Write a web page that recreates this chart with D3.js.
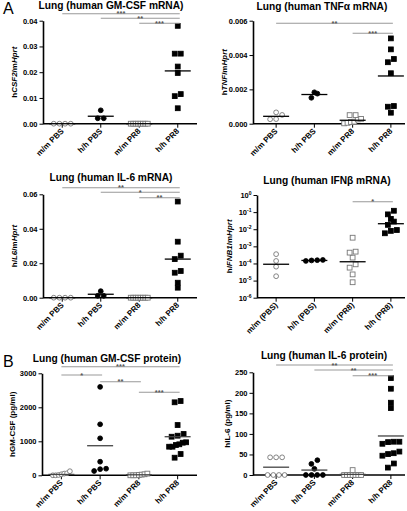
<!DOCTYPE html>
<html><head><meta charset="utf-8">
<script src="https://cdn.jsdelivr.net/npm/d3@7"></script>
<style>body{margin:0;background:#fff}svg{font-family:"Liberation Sans",Arial,sans-serif;}</style>
</head><body><svg id="c" width="407" height="511"></svg>
<script>
// ---------- DATA ----------
const groups = ["m/m PBS", "h/h PBS", "m/m PR8", "h/h PR8"];
const groupsIFN = ["m/m (PBS)", "h/h (PBS)", "m/m (PR8)", "h/h (PR8)"];

const gmcsfMrna = [
  [0, 0, 0, 0],
  [0.0052, 0.0021, 0.0021],
  [0, 0, 0, 0, 0, 0, 0, 0],
  [0.038, 0.0272, 0.0272, 0.0222, 0.0197, 0.0115, 0.0107, 0.006]
];
const gmcsfMrnaMean = [0, 0.0029, 0, 0.0205];

const tnfMrna = [
  [0.00066, 0.00051, 0.00027, 0.00026],
  [0.00183, 0.00175, 0.00151],
  [0.0005, 0.0005, 0.00028, 0.00025, 0.00012, 0.0001, 0.00005, 0.00002],
  [0.00497, 0.00433, 0.00377, 0.00358, 0.00294, 0.00103, 0.00099, 0.00064]
];
const tnfMrnaMean = [0.00043, 0.0017, 0.0002, 0.00278];

const il6Mrna = [
  [0, 0, 0, 0],
  [0.0038, 0.0011, 0.0011],
  [0, 0, 0, 0, 0, 0, 0, 0],
  [0.0558, 0.0325, 0.0244, 0.0224, 0.0155, 0.0145, 0.0087, 0.0058]
];
const il6MrnaMean = [0, 0.002, 0, 0.0224];

const ifnMrna = [
  [3.5e-4, 1.4e-4, 6.5e-5, 1.8e-5],
  [1.6e-4, 1.5e-4, 1.4e-4, 1.55e-4],
  [3.2e-3, 4.9e-4, 4.3e-4, 2.2e-4, 8.9e-5, 5.7e-5, 2.3e-5, 8e-6],
  [0.12, 0.074, 0.04, 0.028, 0.018, 0.009, 0.0058, 0.008]
];
const ifnMrnaMean = [9e-5, 1.5e-4, 1.26e-4, 0.021];

const gmcsfProt = [
  [120, 60, 30, 10, 0, 0, 50],
  [2600, 1500, 1088, 400, 194, 126, 180],
  [50, 30, 20, 10, 0, 0, 0],
  [2147, 2185, 1479, 1215, 1135, 1165, 912, 971, 959, 841, 841, 891, 518, 626]
];
const gmcsfProtMean = [25, 870, 15, 1135];

const il6Prot = [
  [43, 43, 43, 0, 0, 0, 0],
  [36, 27, 15, 0, 0, 0, 0],
  [12, 0, 0, 0, 0, 0, 0, 0],
  [236, 210, 176, 163, 81, 76, 80, 81, 57, 51, 47, 53, 28, 18]
];
const il6ProtMean = [19, 12, 1.5, 95];

// significance: [fromGroup, toGroup, label]
const sigGmcsfMrna = [[0, 3, "***"], [1, 3, "**"], [2, 3, "***"]];
const sigTnfMrna = [[0, 3, "**"], [2, 3, "***"]];
const sigIl6Mrna = [[0, 3, "**"], [1, 3, "*"], [2, 3, "**"]];
const sigIfnMrna = [[2, 3, "*"]];
const sigGmcsfProt = [[0, 3, "***"], [0, 1, "*"], [1, 2, "**"], [2, 3, "***"]];
const sigIl6Prot = [[0, 3, "**"], [1, 3, "**"], [2, 3, "***"]];

const ticksGmcsfMrna = [0, 0.01, 0.02, 0.03, 0.04];
const ticksTnfMrna = [0, 0.002, 0.004, 0.006];
const ticksIl6Mrna = [0, 0.02, 0.04, 0.06];
const ticksIfnMrna = [1e-6, 1e-5, 1e-4, 1e-3, 1e-2, 1e-1, 1];
const ticksGmcsfProt = [0, 1000, 2000, 3000];
const ticksIl6Prot = [0, 50, 100, 150, 200, 250];

const markers = ["circleOpen", "circleFilled", "squareOpen", "squareFilled"];

// ---------- DRAW ----------
const svg = d3.select("#c");

function swarm(vals, y, cx) {
  const pts = vals.map(v => ({ v, py: y(v) })).sort((a, b) => b.py - a.py);
  const rows = [];
  pts.forEach(p => {
    const r = rows[rows.length - 1];
    if (r && r.start - p.py < 4.5) r.pts.push(p); else rows.push({ start: p.py, pts: [p] });
  });
  const out = [];
  rows.forEach(r => {
    const n = r.pts.length;
    const s = n > 1 ? Math.min(6, 17 / (n - 1)) : 0;
    r.pts.forEach((p, i) => out.push({ px: cx + (i - (n - 1) / 2) * s, py: p.py }));
  });
  return out;
}

function drawMarker(g, type, px, py) {
  if (type.startsWith("circle")) {
    g.append("circle").attr("cx", px).attr("cy", py).attr("r", 2.4)
      .attr("fill", type === "circleFilled" ? "#000" : "#fff")
      .attr("stroke", type === "circleFilled" ? "#000" : "#777").attr("stroke-width", 0.9);
  } else {
    g.append("rect").attr("x", px - 2.4).attr("y", py - 2.4).attr("width", 4.8).attr("height", 4.8)
      .attr("fill", type === "squareFilled" ? "#000" : "#fff")
      .attr("stroke", type === "squareFilled" ? "#000" : "#777").attr("stroke-width", 0.9);
  }
}

function panel(c) {
  const g = svg.append("g");
  const x = d3.scalePoint().domain(c.cats).range([c.x0, c.x1]).padding(0.5);
  const y = (c.log ? d3.scaleLog() : d3.scaleLinear()).domain(c.domain).range([c.yBot, c.yTop]);

  // title
  g.append("text").attr("x", c.titleX).attr("y", c.titleY).attr("text-anchor", "middle")
    .attr("font-size", 10.2).attr("font-weight", "bold").text(c.title);

  // y axis
  const ay = g.append("g").attr("transform", `translate(${c.axisX},0)`)
    .call(d3.axisLeft(y).tickValues(c.ticks).tickFormat(c.fmt || null).tickSize(3.5).tickSizeOuter(0).tickPadding(2));
  ay.select(".domain").attr("stroke", "#000").attr("stroke-width", 1.6);
  ay.selectAll(".tick line").attr("stroke", "#000").attr("stroke-width", 1);
  ay.selectAll(".tick text").attr("font-size", 7.5).attr("font-weight", "bold").attr("fill", "#000")
    .attr("font-family", "Liberation Sans, Arial, sans-serif");
  if (c.log) {
    ay.selectAll(".tick text").each(function (d) {
      const t = d3.select(this); t.text(null);
      t.append("tspan").text("10");
      t.append("tspan").attr("font-size", 5).attr("dy", -3).text(String(Math.round(Math.log10(d))));
    });
  }

  // x axis
  g.append("line").attr("x1", c.axisX).attr("x2", c.xEnd).attr("y1", c.yBot).attr("y2", c.yBot)
    .attr("stroke", "#000").attr("stroke-width", 1.6);
  c.cats.forEach(k => {
    g.append("line").attr("x1", x(k)).attr("x2", x(k)).attr("y1", c.yBot).attr("y2", c.yBot + 4)
      .attr("stroke", "#000").attr("stroke-width", 1);
    g.append("text").attr("transform", `translate(${x(k) + 2},${c.yBot + 8}) rotate(-45)`)
      .attr("text-anchor", "end").attr("font-size", 8).attr("font-weight", "bold").text(k);
  });

  // y title
  const yt = g.append("text").attr("transform", `translate(${c.ylabX},${(c.yTop + c.yBot) / 2}) rotate(-90)`)
    .attr("text-anchor", "middle").attr("font-size", 8).attr("font-weight", "bold");
  c.ylab.forEach(p => yt.append("tspan").attr("font-style", p[1] ? "italic" : "normal").text(p[0]));

  // points
  c.data.forEach((vals, i) => {
    const cx = x(c.cats[i]);
    swarm(vals, y, cx).forEach(p => drawMarker(g, markers[i], p.px, p.py));
  });
  // means
  c.means.forEach((m, i) => {
    const cx = x(c.cats[i]);
    g.append("line").attr("x1", cx - 13).attr("x2", cx + 13).attr("y1", y(m)).attr("y2", y(m))
      .attr("stroke", c.meanColor || "#000").attr("stroke-width", 1.3);
  });

  // significance
  c.sig.forEach((s, i) => {
    const yy = c.sigY[i];
    const xa = x(c.cats[s[0]]), xb = x(c.cats[s[1]]) + 2;
    g.append("line").attr("x1", xa).attr("x2", xb).attr("y1", yy).attr("y2", yy)
      .attr("stroke", "#999").attr("stroke-width", 1.1);
    g.append("text").attr("x", (xa + xb) / 2).attr("y", yy + 2.6).attr("text-anchor", "middle")
      .attr("font-size", 7.5).attr("font-weight", "bold").attr("fill", "#555").text(s[2]);
  });
}

const fmt2 = d3.format(".2f"), fmt3 = d3.format(".3f");

panel({ cats: groups, x0: 43, x1: 197, axisX: 43, xEnd: 197, yTop: 20.7, yBot: 123.7, domain: [0, 0.04],
  ticks: ticksGmcsfMrna, fmt: fmt2, title: "Lung (human GM-CSF mRNA)", titleX: 111, titleY: 8.7,
  ylabX: 17, ylab: [["h", 0], ["CSF2", 1], ["/m", 0], ["Hprt", 1]],
  data: gmcsfMrna, means: gmcsfMrnaMean, sig: sigGmcsfMrna, sigY: [13.7, 18.3, 23.3] });

panel({ cats: groups, x0: 257, x1: 410, axisX: 253, xEnd: 405, yTop: 20.7, yBot: 123.7, domain: [0, 0.006],
  ticks: ticksTnfMrna, fmt: fmt3, title: "Lung (human TNFα mRNA)", titleX: 322, titleY: 9.5,
  ylabX: 227, ylab: [["h", 0], ["TNF", 1], ["/m", 0], ["Hprt", 1]],
  data: tnfMrna, means: tnfMrnaMean, sig: sigTnfMrna, sigY: [23.3, 33.3] });

panel({ cats: groups, x0: 43, x1: 197, axisX: 43, xEnd: 197, yTop: 194.3, yBot: 297.7, domain: [0, 0.06],
  ticks: ticksIl6Mrna, fmt: fmt2, title: "Lung (human IL-6 mRNA)", titleX: 111, titleY: 181,
  ylabX: 17, ylab: [["h", 0], ["IL6", 1], ["/m", 0], ["Hprt", 1]],
  data: il6Mrna, means: il6MrnaMean, sig: sigIl6Mrna, sigY: [187.7, 192.3, 197.7] });

panel({ cats: groupsIFN, x0: 257, x1: 410, axisX: 257, xEnd: 405, yTop: 195, yBot: 297.7, domain: [1e-6, 1], log: true,
  ticks: ticksIfnMrna, fmt: d => d, title: "Lung (human IFNβ mRNA)", titleX: 327, titleY: 184,
  ylabX: 232, ylab: [["h", 0], ["IFNB1", 1], ["/m", 0], ["Hprt", 1]],
  data: ifnMrna, means: ifnMrnaMean, sig: sigIfnMrna, sigY: [201.7] });

panel({ cats: groups, x0: 42, x1: 197, axisX: 42, xEnd: 197, yTop: 373.3, yBot: 475.3, domain: [0, 3000],
  ticks: ticksGmcsfProt, fmt: d3.format("d"), title: "Lung (human GM-CSF protein)", titleX: 107, titleY: 361.5,
  ylabX: 15, ylab: [["hGM-CSF (pg/ml)", 0]], meanColor: "#444",
  data: gmcsfProt, means: gmcsfProtMean, sig: sigGmcsfProt, sigY: [366.7, 375, 381.7, 392.3] });

panel({ cats: groups, x0: 257, x1: 410, axisX: 253, xEnd: 405, yTop: 372.3, yBot: 475, domain: [0, 250],
  ticks: ticksIl6Prot, fmt: d3.format("d"), title: "Lung (human IL-6 protein)", titleX: 324, titleY: 358.5,
  ylabX: 230, ylab: [["hIL-6 (pg/ml)", 0]], meanColor: "#444",
  data: il6Prot, means: il6ProtMean, sig: sigIl6Prot, sigY: [365, 370, 375.7] });

// panel letters
svg.append("text").attr("x", 3).attr("y", 14).attr("font-size", 16).text("A");
svg.append("text").attr("x", 3).attr("y", 367).attr("font-size", 16).text("B");
</script></body></html>
